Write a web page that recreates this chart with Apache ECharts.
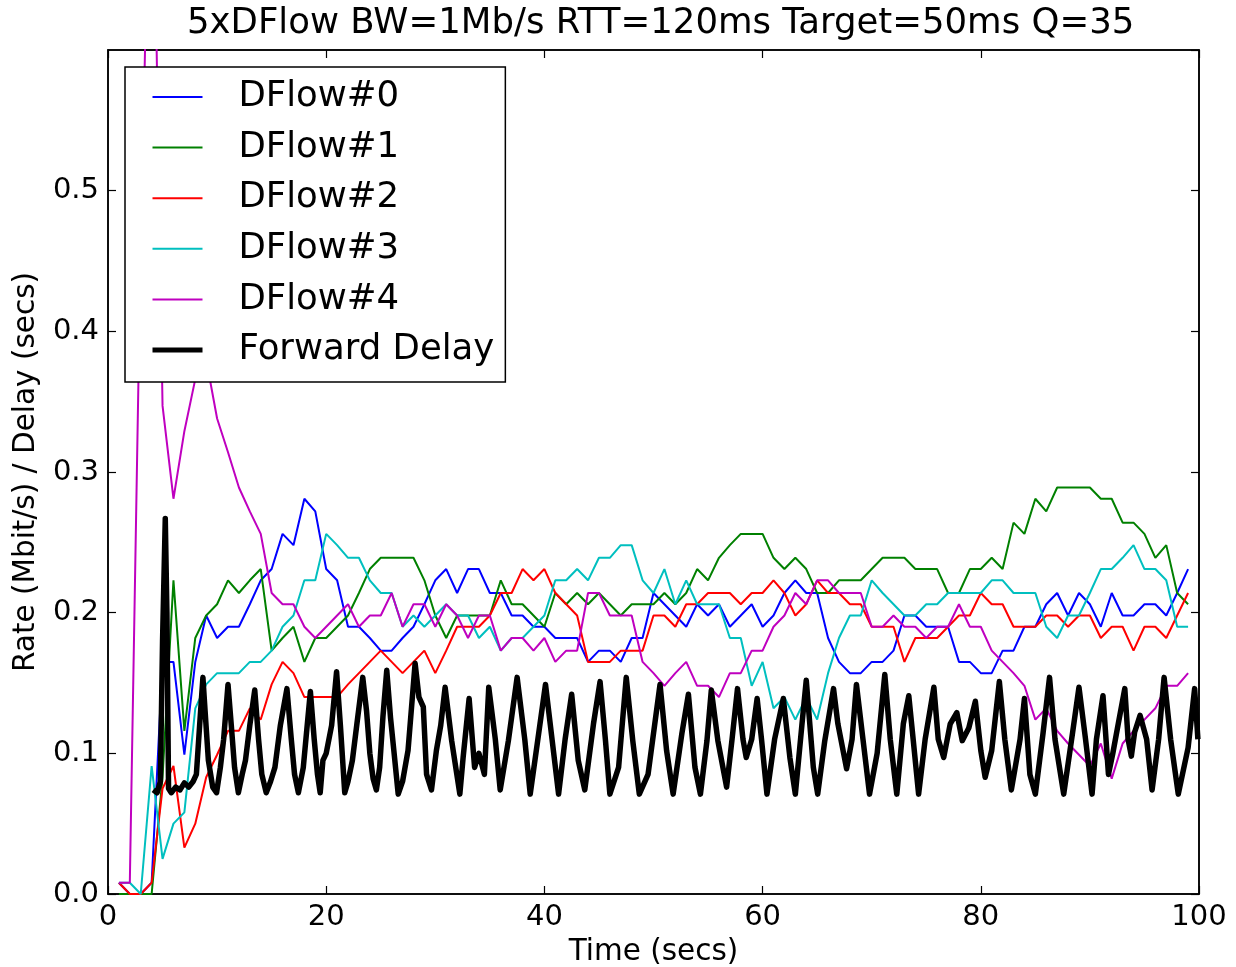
<!DOCTYPE html>
<html>
<head>
<meta charset="utf-8">
<script src="https://cdn.jsdelivr.net/npm/echarts@6/dist/echarts.min.js"></script>
<style>
html,body{margin:0;padding:0;background:#fff;}
#chart{width:1236px;height:967px;}
</style>
</head>
<body>
<div id="chart"></div>
<script>
const titleText = '5xDFlow BW=1Mb/s RTT=120ms Target=50ms Q=35';
const xTitle = 'Time (secs)';
const yTitle = 'Rate (Mbit/s) / Delay (secs)';
const names = ['DFlow#0','DFlow#1','DFlow#2','DFlow#3','DFlow#4','Forward Delay'];
const colors = ['#0000ff','#008000','#ff0000','#00bfbf','#bf00bf','#000000'];

const times = [1,2,3,4,5,6,7,8,9,10,11,12,13,14,15,16,17,18,19,20,21,22,23,24,25,26,27,28,29,30,31,32,33,34,35,36,37,38,39,40,41,42,43,44,45,46,47,48,49,50,51,52,53,54,55,56,57,58,59,60,61,62,63,64,65,66,67,68,69,70,71,72,73,74,75,76,77,78,79,80,81,82,83,84,85,86,87,88,89,90,91,92,93,94,95,96,97,98,99];

const dflow0 = [0.008,0,0,0.008,0.165,0.165,0.099,0.165,0.198,0.182,
0.190,0.190,0.206,0.223,0.231,0.256,0.248,0.281,0.272,0.231,
0.223,0.190,0.190,0.182,0.173,0.173,0.182,0.190,0.206,0.223,
0.231,0.214,0.231,0.231,0.214,0.214,0.198,0.198,0.190,0.190,
0.182,0.182,0.182,0.165,0.173,0.173,0.165,0.182,0.182,0.214,
0.206,0.198,0.190,0.206,0.198,0.206,0.190,0.198,0.206,0.190,
0.198,0.214,0.223,0.214,0.214,0.182,0.165,0.157,0.157,0.165,
0.165,0.173,0.198,0.198,0.190,0.190,0.190,0.165,0.165,0.157,
0.157,0.173,0.173,0.190,0.190,0.206,0.214,0.198,0.214,0.206,
0.190,0.214,0.198,0.198,0.206,0.206,0.198,0.214,0.231];

const dflow1 = [0,0,0,0,0.083,0.223,0.116,0.182,0.198,0.206,
0.223,0.214,0.223,0.231,0.173,0.182,0.190,0.165,0.182,0.182,
0.190,0.198,0.214,0.231,0.239,0.239,0.239,0.239,0.223,0.198,
0.182,0.198,0.198,0.198,0.198,0.223,0.206,0.206,0.198,0.190,
0.214,0.206,0.214,0.206,0.214,0.206,0.198,0.206,0.206,0.206,
0.214,0.206,0.214,0.231,0.223,0.239,0.248,0.256,0.256,0.256,
0.239,0.231,0.239,0.231,0.214,0.214,0.223,0.223,0.223,0.231,
0.239,0.239,0.239,0.231,0.231,0.231,0.214,0.214,0.231,0.231,
0.239,0.231,0.264,0.256,0.281,0.272,0.289,0.289,0.289,0.289,
0.281,0.281,0.264,0.264,0.256,0.239,0.248,0.214,0.206];

const dflow2 = [0.008,0,0,0.008,0.075,0.091,0.033,0.050,0.083,0.099,
0.116,0.116,0.132,0.124,0.149,0.165,0.157,0.140,0.140,0.140,
0.140,0.149,0.157,0.165,0.173,0.165,0.157,0.165,0.173,0.157,
0.173,0.190,0.190,0.190,0.198,0.214,0.214,0.231,0.223,0.231,
0.214,0.206,0.198,0.165,0.165,0.165,0.173,0.173,0.173,0.198,
0.198,0.190,0.206,0.206,0.214,0.214,0.214,0.206,0.214,0.214,
0.223,0.214,0.198,0.206,0.223,0.214,0.214,0.206,0.206,0.190,
0.190,0.190,0.165,0.182,0.182,0.182,0.190,0.198,0.198,0.214,
0.206,0.206,0.190,0.190,0.190,0.198,0.198,0.190,0.198,0.198,
0.182,0.190,0.190,0.173,0.190,0.190,0.182,0.198,0.214];

const dflow3 = [0.008,0.008,0,0.091,0.025,0.050,0.058,0.132,0.149,0.157,
0.157,0.157,0.165,0.165,0.173,0.190,0.198,0.223,0.223,0.256,
0.248,0.239,0.239,0.223,0.214,0.214,0.190,0.198,0.190,0.198,
0.206,0.198,0.198,0.182,0.190,0.173,0.182,0.182,0.190,0.198,
0.223,0.223,0.231,0.223,0.239,0.239,0.248,0.248,0.223,0.214,
0.231,0.206,0.223,0.206,0.206,0.206,0.182,0.182,0.148,0.165,
0.132,0.140,0.124,0.140,0.124,0.157,0.182,0.198,0.198,0.223,
0.214,0.206,0.198,0.198,0.206,0.206,0.214,0.214,0.214,0.214,
0.223,0.223,0.214,0.214,0.214,0.190,0.182,0.198,0.198,0.214,
0.231,0.231,0.239,0.248,0.231,0.231,0.223,0.190,0.190];

const dflow4 = [0.008,0.008,0.46,0.815,0.347,0.281,0.329,0.366,0.38,0.338,
0.314,0.289,0.272,0.256,0.214,0.206,0.206,0.190,0.182,0.190,
0.198,0.206,0.190,0.198,0.198,0.214,0.190,0.206,0.206,0.190,
0.206,0.198,0.182,0.198,0.198,0.173,0.182,0.182,0.173,0.182,
0.165,0.173,0.173,0.214,0.214,0.198,0.198,0.198,0.165,0.157,
0.148,0.157,0.165,0.148,0.148,0.140,0.157,0.157,0.173,0.173,
0.190,0.198,0.214,0.206,0.223,0.223,0.214,0.214,0.214,0.190,
0.190,0.198,0.190,0.190,0.182,0.190,0.190,0.206,0.190,0.190,
0.173,0.165,0.157,0.148,0.124,0.132,0.116,0.107,0.099,0.091,
0.107,0.082,0.107,0.116,0.124,0.132,0.148,0.148,0.157];

const delayT = [4.15,4.5,4.8,5.0,5.25,5.4,5.55,5.8,6.2,6.6,7.0,7.4,7.8,8.1,8.4,8.7,8.9,9.2,9.6,9.95,
10.3,10.6,11.0,11.3,11.6,11.95,12.3,12.6,13.0,13.45,13.8,14.1,14.5,14.9,15.3,15.8,16.4,16.8,17.1,17.45,
17.9,18.2,18.55,18.9,19.2,19.45,19.7,20.0,20.5,20.95,21.3,21.7,22.0,22.4,22.8,23.35,23.7,24.0,24.3,24.6,
24.9,25.2,25.55,25.9,26.2,26.6,27.0,27.5,28.15,28.5,28.9,29.2,29.65,30.1,30.5,30.9,31.5,32.25,32.55,33.1,
33.6,34.0,34.5,34.9,35.5,35.95,36.7,37.5,38.2,38.7,39.4,40.1,40.7,41.3,41.9,42.5,43.1,43.7,44.5,45.1,
45.6,46.0,46.8,47.5,48.1,48.7,49.5,50.6,51.2,51.8,52.6,53.2,53.8,54.3,54.9,55.3,55.9,56.7,57.2,57.7,
58.2,58.5,59.0,59.5,59.9,60.4,61.1,61.9,62.5,63.0,63.6,64.0,64.65,65.05,65.7,66.5,66.9,67.7,68.2,68.6,
69.2,69.8,70.5,71.2,71.7,72.3,72.9,73.4,73.8,74.3,74.9,75.7,76.1,76.6,77.2,77.8,78.3,78.9,79.5,80.0,
80.4,81.0,81.7,82.2,82.8,83.6,84.0,84.5,85.0,85.7,86.3,86.8,87.6,88.4,89.0,89.6,90.2,90.6,91.2,91.7,
92.1,92.6,93.2,93.5,93.8,94.1,94.6,95.2,95.7,96.3,96.8,97.4,98.1,99.0,99.6,99.9];
const delayV = [0.074,0.072,0.08,0.18,0.267,0.2,0.075,0.072,0.076,0.074,0.079,0.076,0.08,0.085,0.12,0.154,0.13,0.095,0.076,0.072,
0.09,0.11,0.149,0.12,0.09,0.072,0.085,0.095,0.12,0.145,0.11,0.085,0.072,0.08,0.09,0.12,0.146,0.11,0.085,0.072,
0.09,0.115,0.144,0.11,0.085,0.072,0.095,0.1,0.12,0.158,0.12,0.072,0.08,0.095,0.12,0.154,0.13,0.1,0.082,0.074,
0.09,0.126,0.159,0.125,0.102,0.071,0.08,0.102,0.164,0.14,0.133,0.085,0.074,0.102,0.12,0.147,0.109,0.071,0.097,0.139,
0.09,0.1,0.085,0.147,0.11,0.074,0.109,0.154,0.11,0.071,0.11,0.149,0.11,0.071,0.11,0.142,0.095,0.074,0.121,0.151,
0.109,0.071,0.09,0.154,0.109,0.071,0.085,0.149,0.102,0.071,0.114,0.142,0.09,0.071,0.109,0.145,0.109,0.076,0.11,0.146,
0.11,0.097,0.11,0.139,0.11,0.071,0.11,0.139,0.097,0.071,0.12,0.152,0.09,0.071,0.109,0.146,0.121,0.089,0.11,0.149,
0.11,0.071,0.1,0.156,0.11,0.071,0.121,0.141,0.11,0.071,0.11,0.147,0.11,0.097,0.121,0.129,0.109,0.118,0.137,0.102,
0.083,0.102,0.151,0.11,0.074,0.11,0.139,0.085,0.071,0.114,0.154,0.11,0.071,0.114,0.147,0.11,0.071,0.11,0.141,0.085,
0.1,0.121,0.146,0.11,0.098,0.115,0.127,0.11,0.074,0.11,0.154,0.11,0.071,0.104,0.146,0.11];

const FONT = 'DejaVu Sans';
const flows = [dflow0,dflow1,dflow2,dflow3,dflow4];

const series = flows.map((arr,i)=>({
  name: names[i], type:'line', xAxisIndex:0, yAxisIndex:0,
  data: times.map((t,k)=>[t, arr[k]]),
  showSymbol:false, symbol:'none', clip:true,
  lineStyle:{color:colors[i], width:2}, itemStyle:{color:colors[i]},
  animation:false
}));
series.push({
  name: names[5], type:'line', xAxisIndex:0, yAxisIndex:0,
  data: delayT.map((t,k)=>[t, delayV[k]]),
  showSymbol:false, symbol:'none', clip:true,
  lineStyle:{color:'#000', width:5.5, join:'round'}, itemStyle:{color:'#000'},
  animation:false
});

function ticks(){ return {show:true, inside:true, length:8, lineStyle:{color:'#000', width:1.2}}; }
function axLine(){ return {show:true, onZero:false, lineStyle:{color:'#000', width:1.5}}; }
const legendData = names.map((n,i)=>({name:n, lineStyle:{width: i===5 ? 5 : 2}}));

const chart = echarts.init(document.getElementById('chart'), null, {renderer:'canvas'});
chart.setOption({
  backgroundColor:'#fff',
  animation:false,
  title:{text:titleText, left:182, top:1, textStyle:{fontFamily:FONT, fontSize:35.5, fontWeight:'normal', color:'#000'}},
  grid:{left:108, right:37, top:50, bottom:73, show:true, borderColor:'#000', borderWidth:1.5,
        backgroundColor:'transparent', containLabel:false, outerBoundsMode:'none'},
  legend:{
    orient:'vertical', left:125, top:67, data:legendData,
    backgroundColor:'#fff', borderColor:'#000', borderWidth:1.5, borderRadius:0,
    padding:[10,11,12,25], itemGap:10.6, itemWidth:50, itemHeight:14,
    itemStyle:{opacity:0},
    textStyle:{fontFamily:FONT, fontSize:35.5, color:'#000', lineHeight:40, padding:[0,0,0,31]}
  },
  xAxis:[
    {type:'value', min:0, max:100, interval:20, position:'bottom',
     name:xTitle, nameLocation:'middle', nameGap:40,
     nameTextStyle:{fontFamily:FONT, fontSize:29.5, color:'#000'},
     axisLine:axLine(), axisTick:ticks(),
     axisLabel:{fontFamily:FONT, fontSize:29, color:'#000', margin:9},
     splitLine:{show:false}},
    {type:'value', min:0, max:100, interval:20, position:'top',
     axisLine:axLine(), axisTick:ticks(),
     axisLabel:{show:false}, splitLine:{show:false}}
  ],
  yAxis:[
    {type:'value', min:0, max:0.6, interval:0.1, position:'left',
     name:yTitle, nameLocation:'middle', nameGap:67,
     nameTextStyle:{fontFamily:FONT, fontSize:29.5, color:'#000'},
     axisLine:axLine(), axisTick:ticks(),
     axisLabel:{fontFamily:FONT, fontSize:29, color:'#000', margin:9, showMaxLabel:false,
       formatter:v=>v.toFixed(1)},
     splitLine:{show:false}},
    {type:'value', min:0, max:0.6, interval:0.1, position:'right',
     axisLine:axLine(), axisTick:ticks(),
     axisLabel:{show:false}, splitLine:{show:false}}
  ],
  series: series
});
</script>
</body>
</html>
